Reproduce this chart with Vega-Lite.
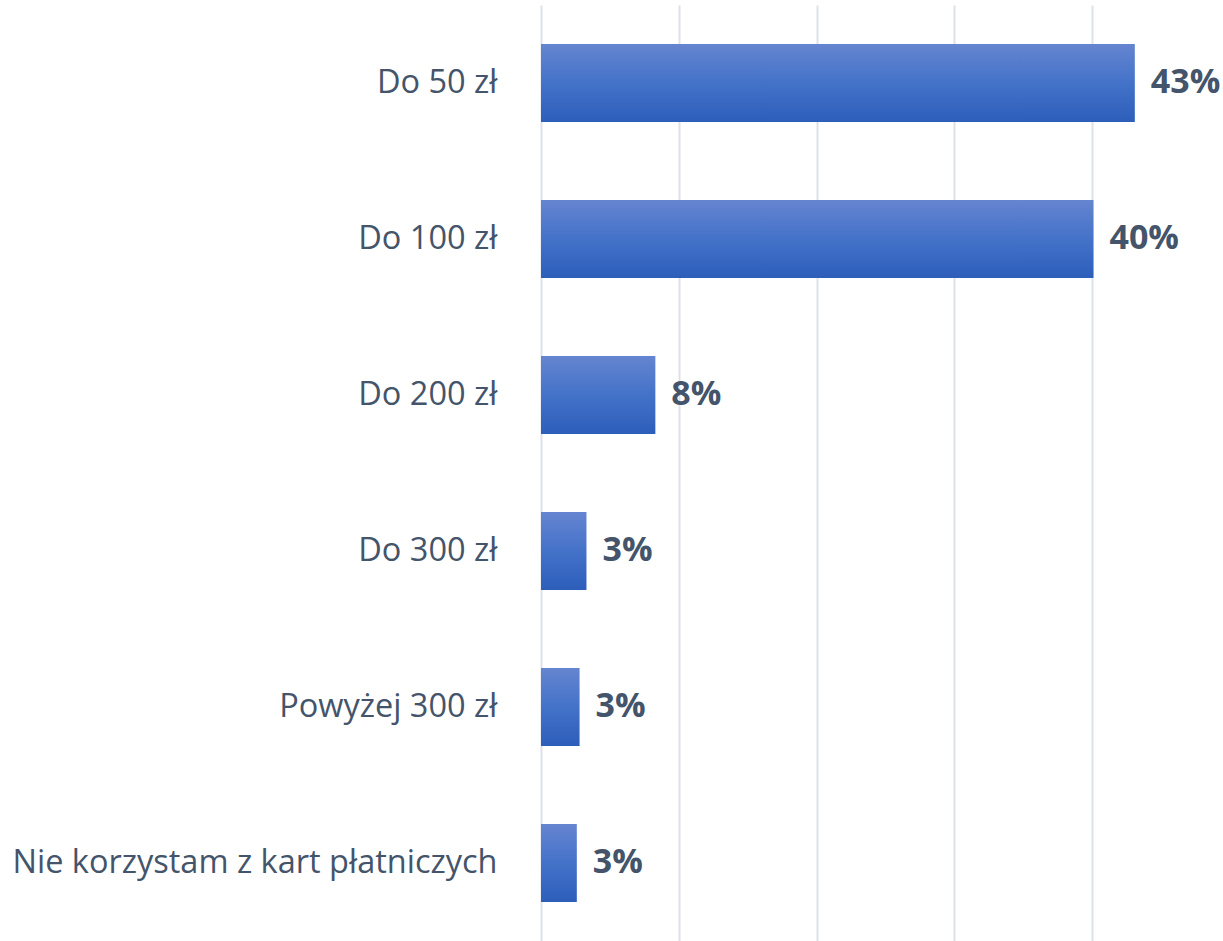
{
  "$schema": "https://vega.github.io/schema/vega-lite/v6.json",
  "autosize": {"type": "none"},
  "padding": {"left": 541, "top": 5, "right": 0, "bottom": 0},
  "width": 682,
  "height": 936,
  "background": "white",
  "config": {"view": {"stroke": null}},
  "data": {
    "values": [
      {"kategoria": "Do 50 zł", "udzial": 0.431},
      {"kategoria": "Do 100 zł", "udzial": 0.401},
      {"kategoria": "Do 200 zł", "udzial": 0.083},
      {"kategoria": "Do 300 zł", "udzial": 0.033},
      {"kategoria": "Powyżej 300 zł", "udzial": 0.028},
      {"kategoria": "Nie korzystam z kart płatniczych", "udzial": 0.026}
    ]
  },
  "encoding": {
    "y": {
      "field": "kategoria",
      "type": "nominal",
      "sort": null,
      "scale": {"paddingInner": 0.5, "paddingOuter": 0.25},
      "axis": {
        "title": null,
        "domain": false,
        "ticks": false,
        "labelPadding": 44,
        "labelFont": "Open Sans",
        "labelFontSize": 32.5,
        "labelColor": "#44546A",
        "labelLimit": 600
      }
    },
    "x": {
      "field": "udzial",
      "type": "quantitative",
      "scale": {"domain": [0, 0.495], "nice": false},
      "axis": {
        "title": null,
        "values": [0, 0.1, 0.2, 0.3, 0.4],
        "labels": false,
        "ticks": false,
        "domain": false,
        "grid": true,
        "gridColor": "#DDE1E8",
        "gridWidth": 2
      }
    }
  },
  "layer": [
    {
      "mark": {
        "type": "bar",
        "color": {
          "gradient": "linear",
          "x1": 0, "y1": 0, "x2": 0, "y2": 1,
          "stops": [
            {"offset": 0, "color": "#6585D0"},
            {"offset": 0.5, "color": "#4472C9"},
            {"offset": 1, "color": "#2C5EBA"}
          ]
        }
      }
    },
    {
      "mark": {
        "type": "text",
        "align": "left",
        "baseline": "middle",
        "dx": 16,
        "font": "Open Sans",
        "fontSize": 34,
        "fontWeight": "bold",
        "color": "#44546A"
      },
      "encoding": {
        "text": {"field": "udzial", "type": "quantitative", "format": ".0%"}
      }
    }
  ]
}
